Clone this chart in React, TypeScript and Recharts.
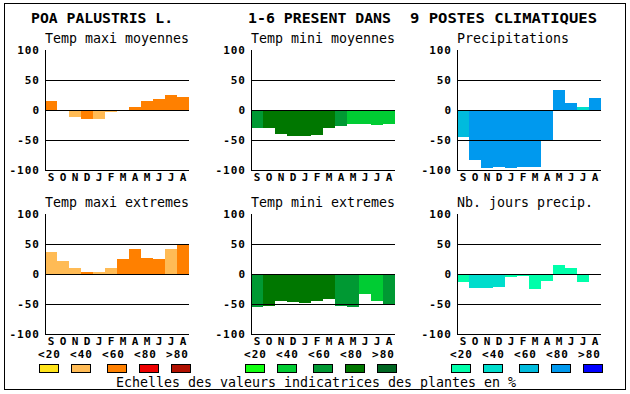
import { Bar, BarChart, Cell, ReferenceLine, XAxis, YAxis } from 'recharts';

const MONTHS = ['S', 'O', 'N', 'D', 'J', 'F', 'M', 'A', 'M', 'J', 'J', 'A'];
const Y_TICKS = [-100, -50, 0, 50, 100];
const CLASS_LABELS = ['<20', '<40', '<60', '<80', '>80'];

const WARM = ['#FFE41A', '#FFBB55', '#FF8000', '#EE0000', '#B01000'];
const GREEN = ['#11FF11', '#00CC33', '#009933', '#007700', '#006622'];
const BLUE = ['#00FFAA', '#00DDCC', '#00BBDD', '#0099EE', '#0000FF'];

// values in % of departure, level = index of colour class
const maxiMoy = [15.5, 0, -12, -15.5, -15.5, -4, 0, 5.5, 15.5, 18, 25.5, 22];
const maxiMoyLvl = [2, 2, 1, 2, 1, 1, 2, 2, 2, 2, 2, 2];
const miniMoy = [-30.5, -30.5, -40.5, -44, -44, -42, -30.5, -27, -24, -24, -25.5, -24];
const miniMoyLvl = [2, 3, 3, 3, 3, 3, 3, 2, 1, 1, 1, 1];
const precip = [-45.5, -84, -97, -95.5, -97, -95.5, -95.5, -52, 34, 12, 5.5, 20.5];
const precipLvl = [2, 3, 3, 3, 3, 3, 3, 3, 3, 3, 1, 3];
const maxiExt = [37, 22, 10.5, 4, 4, 10.5, 25.5, 42, 27, 25.5, 42, 49];
const maxiExtLvl = [1, 1, 1, 2, 1, 1, 2, 2, 2, 2, 1, 2];
const miniExt = [-55.5, -54, -44.5, -46, -48, -44.5, -41, -54, -55.5, -33, -44.5, -50];
const miniExtLvl = [2, 3, 3, 3, 3, 3, 3, 2, 2, 1, 1, 2];
const jours = [-14, -24, -24, -22, -5.5, -4, -25.5, -12, 15, 10, -14, 0];
const joursLvl = [0, 1, 1, 1, 0, 0, 0, 0, 0, 0, 0, 0];

const MONO = "'DejaVu Sans Mono', monospace";
const COLS = [45, 251, 457];
const ROWS = [50, 214];

type PanelProps = {
  title: string;
  left: number;
  top: number;
  values: number[];
  levels: number[];
  palette: string[];
};

function Panel({ title, left, top, values, levels, palette }: PanelProps) {
  const data = MONTHS.map((m, i) => ({ m, v: values[i], fill: palette[levels[i]] }));
  const monthTick = { fill: '#000', fontSize: 11, fontWeight: 'bold', fontFamily: MONO };
  const valueTick = { fill: '#000', fontSize: 11, fontWeight: 'bold', fontFamily: MONO, letterSpacing: 1 };

  return (
    <>
      <div
        style={{
          position: 'absolute',
          left: left,
          top: top - 18,
          fontFamily: MONO,
          fontSize: 13.3,
          lineHeight: '14px',
          whiteSpace: 'pre',
          color: '#000'
        }}
      >
        {title}
      </div>
      <div style={{ position: 'absolute', left: left - 45, top: top - 10, shapeRendering: 'crispEdges' }}>
        <BarChart
          width={194}
          height={160}
          data={data}
          margin={{ top: 10, right: 5, left: 0, bottom: 0 }}
          barCategoryGap={0}
          barGap={0}
        >
          <XAxis
            dataKey="m"
            interval={0}
            tickLine={false}
            tickSize={0}
            tickMargin={3}
            height={30}
            axisLine={{ stroke: '#000' }}
            tick={monthTick}
          />
          <XAxis
            xAxisId="top"
            orientation="top"
            dataKey="m"
            height={0}
            tick={false}
            tickLine={false}
            axisLine={{ stroke: '#000' }}
          />
          <YAxis
            type="number"
            domain={[-100, 100]}
            ticks={Y_TICKS}
            interval={0}
            width={45}
            tickLine={false}
            tickSize={0}
            tickMargin={5}
            axisLine={{ stroke: '#000' }}
            tick={valueTick}
          />
          <YAxis
            yAxisId="right"
            orientation="right"
            type="number"
            domain={[-100, 100]}
            width={0}
            tick={false}
            tickLine={false}
            axisLine={{ stroke: '#000' }}
          />
          <Bar dataKey="v" isAnimationActive={false}>
            {data.map((d, i) => (
              <Cell key={i} fill={d.fill} />
            ))}
          </Bar>
          <ReferenceLine y={50} stroke="#000" strokeWidth={1} />
          <ReferenceLine y={0} stroke="#000" strokeWidth={1} />
          <ReferenceLine y={-50} stroke="#000" strokeWidth={1} />
        </BarChart>
      </div>
    </>
  );
}

const SWATCH_OFFSETS = [0, 32, 68, 100, 132];

function ClassLegend({ left, palette }: { left: number; palette: string[] }) {
  return (
    <g>
      {CLASS_LABELS.map((lab, i) => (
        <text
          key={lab}
          x={left + 4.5 + i * 32}
          y={357.5}
          textAnchor="middle"
          fontFamily={MONO}
          fontSize={11}
          fontWeight="bold"
          letterSpacing={1}
          fill="#000"
        >
          {lab}
        </text>
      ))}
      {palette.map((c, i) => (
        <rect
          key={c}
          x={left + 4 + SWATCH_OFFSETS[i] - 10 + 0.5}
          y={364.5}
          width={19}
          height={8}
          fill={c}
          stroke="#000"
          strokeWidth={1}
        />
      ))}
    </g>
  );
}

export default function App() {
  return (
    <div
      style={{
        position: 'absolute',
        left: 0,
        top: 0,
        width: 630,
        height: 394,
        background: '#fff',
        overflow: 'hidden'
      }}
    >
      <svg width={630} height={394} style={{ position: 'absolute', left: 0, top: 0 }}>
        <rect x={4.5} y={3.5} width={621} height={386} fill="none" stroke="#000" strokeWidth={1} />
        <g fontFamily={MONO} fontSize={14} fontWeight="bold" fill="#000">
          <text x={31} y={22.5} textLength={142} lengthAdjust="spacingAndGlyphs">POA PALUSTRIS L.</text>
          <text x={248} y={22.5} textLength={143} lengthAdjust="spacingAndGlyphs">1-6 PRESENT DANS</text>
          <text x={410} y={22.5} textLength={187} lengthAdjust="spacingAndGlyphs">9 POSTES CLIMATIQUES</text>
        </g>
        <ClassLegend left={COLS[0]} palette={WARM} />
        <ClassLegend left={COLS[1]} palette={GREEN} />
        <ClassLegend left={COLS[2]} palette={BLUE} />
        <text x={116} y={386.5} fontFamily={MONO} fontSize={13.3} fill="#000" textLength={400}>
          Echelles des valeurs indicatrices des plantes en %
        </text>
      </svg>
      <Panel title="Temp maxi moyennes" left={COLS[0]} top={ROWS[0]} values={maxiMoy} levels={maxiMoyLvl} palette={WARM} />
      <Panel title="Temp mini moyennes" left={COLS[1]} top={ROWS[0]} values={miniMoy} levels={miniMoyLvl} palette={GREEN} />
      <Panel title="Precipitations" left={COLS[2]} top={ROWS[0]} values={precip} levels={precipLvl} palette={BLUE} />
      <Panel title="Temp maxi extremes" left={COLS[0]} top={ROWS[1]} values={maxiExt} levels={maxiExtLvl} palette={WARM} />
      <Panel title="Temp mini extremes" left={COLS[1]} top={ROWS[1]} values={miniExt} levels={miniExtLvl} palette={GREEN} />
      <Panel title="Nb. jours precip." left={COLS[2]} top={ROWS[1]} values={jours} levels={joursLvl} palette={BLUE} />
    </div>
  );
}
